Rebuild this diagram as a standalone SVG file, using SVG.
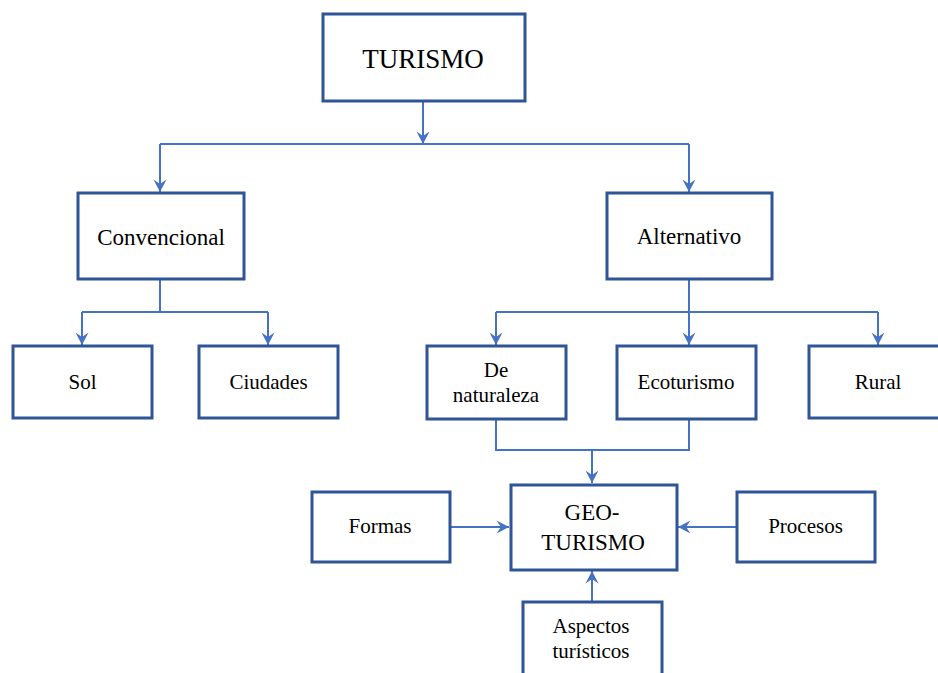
<svg xmlns="http://www.w3.org/2000/svg" width="938" height="673" viewBox="0 0 938 673">
  <defs>
    <style>
      .box { fill: #ffffff; stroke: #2F5597; stroke-width: 3; }
      .lbl { font-family: 'Liberation Serif', 'Times New Roman', Tinos, 'DejaVu Serif', serif; fill: #000000; text-anchor: middle; }
      .big { font-size: 27px; }
      .mid { font-size: 23px; }
      .sm { font-size: 21px; }
      .wire { fill: none; stroke: #4472C4; stroke-width: 2; }
      .arr { fill: none; stroke: #4472C4; stroke-width: 2; marker-end: url(#head); }
    </style>
    <!-- notched arrowhead, tip at the path end -->
    <marker id="head" markerUnits="userSpaceOnUse" markerWidth="14" markerHeight="14" viewBox="0 0 14 14" refX="13" refY="7" orient="auto">
      <path d="M0.5,0.5 L13,7 L0.5,13.5 L5,7 Z" fill="#4472C4"/>
    </marker>
  </defs>

  <!-- connectors -->
  <g id="connectors">
    <path class="arr" d="M423,101 V144"/>
    <path class="wire" d="M160,144 H689"/>
    <path class="arr" d="M160,144 V192"/>
    <path class="arr" d="M689,144 V192"/>

    <path class="wire" d="M160,279 V312 M82,312 H268"/>
    <path class="arr" d="M82,312 V345"/>
    <path class="arr" d="M268,312 V345"/>

    <path class="wire" d="M689,279 V312 M496,312 H878"/>
    <path class="arr" d="M496,312 V345"/>
    <path class="arr" d="M689,312 V345"/>
    <path class="arr" d="M878,312 V345"/>

    <path class="wire" d="M496,419 V450 H689 V419"/>
    <path class="arr" d="M592,450 V483"/>

    <path class="arr" d="M450,527 H509"/>
    <path class="arr" d="M737,527 H678"/>
    <path class="arr" d="M592,602 V571"/>
  </g>

  <g id="turismo">
    <rect class="box" x="323" y="14" width="202" height="87"/>
    <text class="lbl big" x="423" y="68" font-family="Liberation Serif, serif">TURISMO</text>
  </g>

  <g id="convencional">
    <rect class="box" x="78" y="193" width="166" height="86"/>
    <text class="lbl mid" x="161" y="245">Convencional</text>
  </g>

  <g id="alternativo">
    <rect class="box" x="607" y="193" width="165" height="86"/>
    <text class="lbl mid" x="689" y="244">Alternativo</text>
  </g>

  <g id="sol">
    <rect class="box" x="13" y="346" width="139" height="72"/>
    <text class="lbl sm" x="82.5" y="389">Sol</text>
  </g>

  <g id="ciudades">
    <rect class="box" x="199" y="346" width="139" height="72"/>
    <text class="lbl sm" x="268.5" y="389">Ciudades</text>
  </g>

  <g id="de-naturaleza">
    <rect class="box" x="427" y="346" width="139" height="73"/>
    <text class="lbl sm" x="496" y="377">De</text>
    <text class="lbl sm" x="496" y="402">naturaleza</text>
  </g>

  <g id="ecoturismo">
    <rect class="box" x="617" y="346" width="139" height="73"/>
    <text class="lbl sm" x="686" y="389">Ecoturismo</text>
  </g>

  <g id="rural">
    <rect class="box" x="809" y="346" width="139" height="72"/>
    <text class="lbl sm" x="878" y="389">Rural</text>
  </g>

  <g id="geoturismo">
    <rect class="box" x="511" y="485" width="166" height="85"/>
    <text class="lbl mid" x="592" y="520">GEO-</text>
    <text class="lbl mid" x="593" y="550">TURISMO</text>
  </g>

  <g id="formas">
    <rect class="box" x="312" y="492" width="138" height="70"/>
    <text class="lbl sm" x="380" y="533">Formas</text>
  </g>

  <g id="procesos">
    <rect class="box" x="737" y="492" width="138" height="70"/>
    <text class="lbl sm" x="805.5" y="533">Procesos</text>
  </g>

  <g id="aspectos">
    <rect class="box" x="523" y="602" width="139" height="90"/>
    <text class="lbl sm" x="591" y="633">Aspectos</text>
    <text class="lbl sm" x="591" y="658">turísticos</text>
  </g>
</svg>
